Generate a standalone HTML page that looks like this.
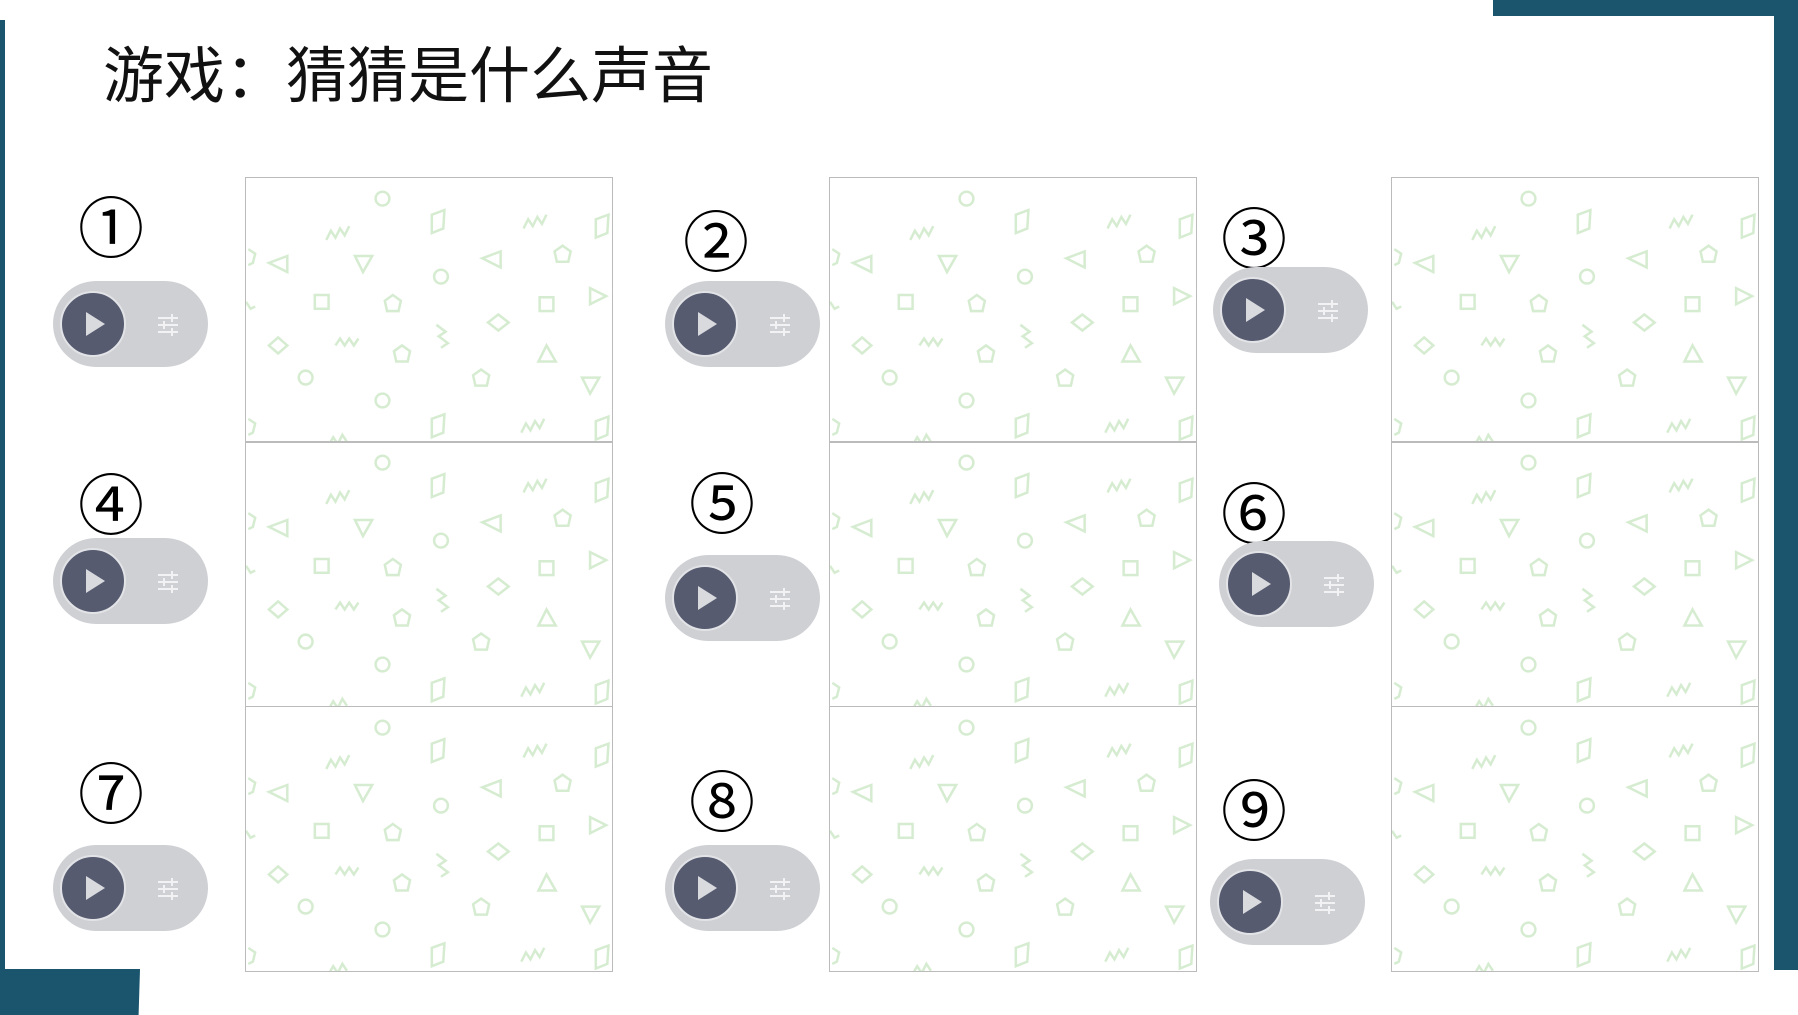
<!DOCTYPE html>
<html><head><meta charset="utf-8"><style>
html,body{margin:0;padding:0}
body{width:1798px;height:1015px;position:relative;overflow:hidden;background:#fff;font-family:"Liberation Sans","Noto Sans CJK SC",sans-serif}
.a{position:absolute}
.bar{background:#1b546d}
.title{left:103px;top:26px;font-size:61px;color:#111;white-space:nowrap}
.num{font-family:"Noto Sans CJK SC",sans-serif;font-size:66px;line-height:1;transform:translate(-50%,-50%);color:#000}
.pill{width:155px;height:86px;border-radius:43px;background:#cfd0d4}
.pill .c{position:absolute;left:7px;top:10px;width:62px;height:62px;border-radius:50%;background:#565b70;border:2px solid #e2e3e6}
.pill .c:after{content:"";position:absolute;left:24px;top:19px;border-left:19px solid #d9dade;border-top:12px solid transparent;border-bottom:12px solid transparent}
.pill svg{position:absolute;left:103px;top:33px}
.panel{border:1.5px solid #bbb;box-sizing:border-box;width:368px;height:266px}
</style></head><body>
<div class="a bar" style="left:0;top:20px;width:5px;height:960px"></div>
<div class="a bar" style="left:0;top:969px;width:140px;height:46px;clip-path:polygon(0 0,100% 0,99% 100%,0 100%)"></div>
<div class="a bar" style="left:1493px;top:0;width:305px;height:16px"></div>
<div class="a bar" style="left:1774px;top:0;width:24px;height:970px"></div>
<div class="a title">游戏：猜猜是什么声音</div>

<svg width="0" height="0" style="position:absolute"><defs>
<g id="pat" fill="none" stroke="#d6ecd1" stroke-width="2.2" transform="scale(1.147)">
<circle cx="119" cy="18" r="6"/><circle cx="170" cy="86" r="6"/><circle cx="52" cy="174" r="6"/><circle cx="119" cy="194" r="6"/>
<path d="M36 68 L20 74 L36 82Z"/><path d="M95 68 L110 68 L102 82Z"/><path d="M222 64 L206 70 L222 78Z"/><path d="M300 96 L314 103 L300 110Z"/><path d="M255 160 L270 160 L262 146Z"/><path d="M293 174 L308 174 L300 188Z"/>
<rect x="60" y="102" width="12" height="12"/><rect x="256" y="104" width="12" height="12"/>
<path d="M121 107 L128 102 L135 107 L133 116 L123 116Z"/><path d="M269 64 L276 59 L283 64 L281 73 L271 73Z"/><path d="M129 151 L136 146 L143 151 L141 160 L131 160Z"/><path d="M198 172 L205 167 L212 172 L210 181 L200 181Z"/>
<path d="M28 139 L36 146 L28 153 L20 146Z"/><path d="M220 119 L229 126 L220 133 L211 126Z"/>
<path d="M162 32 L173 28 L172 44 L162 48Z"/><path d="M305 36 L316 32 L315 48 L305 52Z"/><path d="M162 210 L173 206 L172 222 L162 226Z"/><path d="M305 212 L316 208 L315 224 L305 228Z"/>
<path d="M70 54 L74 46 L78 52 L82 44 L86 50 L90 42"/><path d="M242 44 L246 36 L250 42 L254 34 L258 40 L262 32"/><path d="M78 146 L82 140 L86 146 L90 140 L94 146 L98 140"/><path d="M166 128 L174 134 L168 138 L176 144 L170 148"/><path d="M240 222 L244 214 L248 220 L252 212 L256 218 L260 210"/><path d="M72 233 L76 226 L80 232 L84 224 L88 230"/>
<path d="M2 62 L8 66 L6 74 L2 76"/><path d="M2 210 L8 214 L6 222 L2 224"/><path d="M0 108 L4 114 L8 112"/>
</g></defs></svg>

<div class="a panel" style="left:245px;top:177px"><svg width="366" height="264"><use href="#pat"/></svg></div>
<div class="a panel" style="left:245px;top:441px"><svg width="366" height="264"><use href="#pat"/></svg></div>
<div class="a panel" style="left:245px;top:706px"><svg width="366" height="264"><use href="#pat"/></svg></div>
<div class="a panel" style="left:829px;top:177px"><svg width="366" height="264"><use href="#pat"/></svg></div>
<div class="a panel" style="left:829px;top:441px"><svg width="366" height="264"><use href="#pat"/></svg></div>
<div class="a panel" style="left:829px;top:706px"><svg width="366" height="264"><use href="#pat"/></svg></div>
<div class="a panel" style="left:1391px;top:177px"><svg width="366" height="264"><use href="#pat"/></svg></div>
<div class="a panel" style="left:1391px;top:441px"><svg width="366" height="264"><use href="#pat"/></svg></div>
<div class="a panel" style="left:1391px;top:706px"><svg width="366" height="264"><use href="#pat"/></svg></div>

<div class="a num" style="left:111px;top:224px">①</div>
<div class="a num" style="left:716px;top:238px">②</div>
<div class="a num" style="left:1254px;top:235px">③</div>
<div class="a num" style="left:111px;top:501px">④</div>
<div class="a num" style="left:722px;top:500px">⑤</div>
<div class="a num" style="left:1254px;top:510px">⑥</div>
<div class="a num" style="left:111px;top:790px">⑦</div>
<div class="a num" style="left:722px;top:798px">⑧</div>
<div class="a num" style="left:1254px;top:807px">⑨</div>

<div class="a pill" style="left:53px;top:281px"><div class="c"></div><svg width="24" height="22" stroke="#f2f2f4" stroke-width="2"><path d="M2 4H22M2 11H22M2 18H22M16 0V8M8 7V15M16 14V22"/></svg></div>
<div class="a pill" style="left:665px;top:281px"><div class="c"></div><svg width="24" height="22" stroke="#f2f2f4" stroke-width="2"><path d="M2 4H22M2 11H22M2 18H22M16 0V8M8 7V15M16 14V22"/></svg></div>
<div class="a pill" style="left:1213px;top:267px"><div class="c"></div><svg width="24" height="22" stroke="#f2f2f4" stroke-width="2"><path d="M2 4H22M2 11H22M2 18H22M16 0V8M8 7V15M16 14V22"/></svg></div>
<div class="a pill" style="left:53px;top:538px"><div class="c"></div><svg width="24" height="22" stroke="#f2f2f4" stroke-width="2"><path d="M2 4H22M2 11H22M2 18H22M16 0V8M8 7V15M16 14V22"/></svg></div>
<div class="a pill" style="left:665px;top:555px"><div class="c"></div><svg width="24" height="22" stroke="#f2f2f4" stroke-width="2"><path d="M2 4H22M2 11H22M2 18H22M16 0V8M8 7V15M16 14V22"/></svg></div>
<div class="a pill" style="left:1219px;top:541px"><div class="c"></div><svg width="24" height="22" stroke="#f2f2f4" stroke-width="2"><path d="M2 4H22M2 11H22M2 18H22M16 0V8M8 7V15M16 14V22"/></svg></div>
<div class="a pill" style="left:53px;top:845px"><div class="c"></div><svg width="24" height="22" stroke="#f2f2f4" stroke-width="2"><path d="M2 4H22M2 11H22M2 18H22M16 0V8M8 7V15M16 14V22"/></svg></div>
<div class="a pill" style="left:665px;top:845px"><div class="c"></div><svg width="24" height="22" stroke="#f2f2f4" stroke-width="2"><path d="M2 4H22M2 11H22M2 18H22M16 0V8M8 7V15M16 14V22"/></svg></div>
<div class="a pill" style="left:1210px;top:859px"><div class="c"></div><svg width="24" height="22" stroke="#f2f2f4" stroke-width="2"><path d="M2 4H22M2 11H22M2 18H22M16 0V8M8 7V15M16 14V22"/></svg></div>
</body></html>
